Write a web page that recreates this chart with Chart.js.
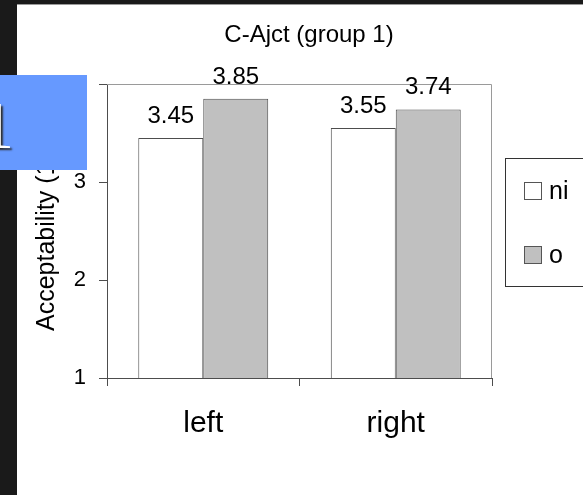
<!DOCTYPE html>
<html>
<head>
<meta charset="utf-8">
<script src="https://cdn.jsdelivr.net/npm/chart.js@4.4.1/dist/chart.umd.min.js"></script>
<style>
  html, body { margin: 0; padding: 0; background: #1a1a1a; overflow: hidden; }
  #sheet { position: absolute; left: 17px; top: 4px; width: 566px; height: 491px; background: #fff; border-top: 1px solid #9a9a9a; }
  #chartBox { position: absolute; left: 0; top: 0; width: 583px; height: 495px; }
  #badge { position: absolute; left: 0; top: 75px; width: 87px; height: 95px; background: #6699ff; overflow: hidden; }
  #badge span { position: absolute; left: -20px; top: 16px; font-family: "Liberation Serif", "DejaVu Serif", serif; font-size: 68px; line-height: 1; color: #fff; text-shadow: 2px 2px 2px #2a2a2a; }
</style>
</head>
<body>
<div id="sheet"></div>
<div id="chartBox"><canvas id="chart" width="583" height="495"></canvas></div>
<div id="badge"><span>1</span></div>
<script>
// Mean acceptability ratings per position
const categories = ['left', 'right'];
const seriesNames = ['ni', 'o'];
const niValues = [3.45, 3.55];
const oValues = [3.85, 3.74];
const yTickValues = [1, 2, 3, 4];
const chartTitle = 'C-Ajct (group 1)';
const yAxisTitle = 'Acceptability (1-4)';

const FONT = '"Liberation Sans", Arial, sans-serif';
const AXIS = '#4d4d4d';

// Title, plot frame, value labels and the legend panel
const decorations = {
  id: 'decorations',
  beforeDatasetsDraw(chart) {
    const { ctx, chartArea: a } = chart;
    ctx.save();
    ctx.strokeStyle = '#9a9a9a';
    ctx.lineWidth = 1;
    ctx.beginPath();
    ctx.moveTo(a.left, a.top + 0.5);
    ctx.lineTo(a.right - 0.5, a.top + 0.5);
    ctx.lineTo(a.right - 0.5, a.bottom);
    ctx.stroke();
    ctx.restore();
  },
  afterDatasetsDraw(chart) {
    const { ctx } = chart;
    ctx.save();
    ctx.fillStyle = '#000';
    ctx.font = '24px ' + FONT;
    ctx.textAlign = 'center';
    ctx.textBaseline = 'alphabetic';
    chart.data.datasets.forEach((ds, i) => {
      chart.getDatasetMeta(i).data.forEach((bar, j) => {
        ctx.fillText(ds.data[j].toFixed(2), bar.x, bar.y - 15);
      });
    });

    // chart title
    ctx.font = '24px ' + FONT;
    ctx.fillText(chartTitle, 309, 42);

    // legend panel
    ctx.strokeStyle = '#333';
    ctx.lineWidth = 1;
    ctx.fillStyle = '#fff';
    ctx.fillRect(505.5, 158.5, 120, 128);
    ctx.strokeRect(505.5, 158.5, 120, 128);
    const rowY = [191, 255];
    chart.data.datasets.forEach((ds, i) => {
      const y = rowY[i];
      ctx.fillStyle = ds.backgroundColor;
      ctx.fillRect(524.5, y - 8.5, 17, 17);
      ctx.strokeStyle = '#555';
      ctx.strokeRect(524.5, y - 8.5, 17, 17);
      ctx.fillStyle = '#000';
      ctx.font = '25px ' + FONT;
      ctx.textAlign = 'left';
      ctx.textBaseline = 'middle';
      ctx.fillText(ds.label, 549, y + 1);
    });
    ctx.restore();
  }
};

new Chart(document.getElementById('chart'), {
  type: 'bar',
  data: {
    labels: categories,
    datasets: [
      { label: seriesNames[0], data: niValues, backgroundColor: '#ffffff', borderColor: AXIS, borderWidth: 1 },
      { label: seriesNames[1], data: oValues, backgroundColor: '#c0c0c0', borderColor: AXIS, borderWidth: 1 }
    ]
  },
  options: {
    responsive: false,
    animation: false,
    datasets: { bar: { categoryPercentage: 0.675, barPercentage: 1.0 } },
    layout: { padding: { top: 84, right: 91, left: 0, bottom: 0 } },
    plugins: {
      legend: { display: false },
      title: { display: false },
      tooltip: { enabled: false }
    },
    scales: {
      x: {
        grid: { drawOnChartArea: false, drawTicks: true, tickLength: 8, color: AXIS, offset: true },
        border: { display: true, color: AXIS, width: 1 },
        ticks: { font: { family: FONT, size: 30 }, color: '#000', padding: 20 },
        afterFit(scale) { scale.height = 117; }
      },
      y: {
        min: 1,
        max: 4,
        afterBuildTicks(scale) { scale.ticks = yTickValues.map(v => ({ value: v })); },
        ticks: { font: { family: FONT, size: 22 }, color: '#000', padding: 13 },
        grid: { drawOnChartArea: false, drawTicks: true, tickLength: 8, color: AXIS },
        border: { display: true, color: AXIS, width: 1 },
        title: { display: true, text: yAxisTitle, font: { family: FONT, size: 25 }, color: '#000', padding: { top: 32, bottom: 0 } },
        afterFit(scale) { scale.width = 107; }
      }
    }
  },
  plugins: [decorations]
});
</script>
</body>
</html>
